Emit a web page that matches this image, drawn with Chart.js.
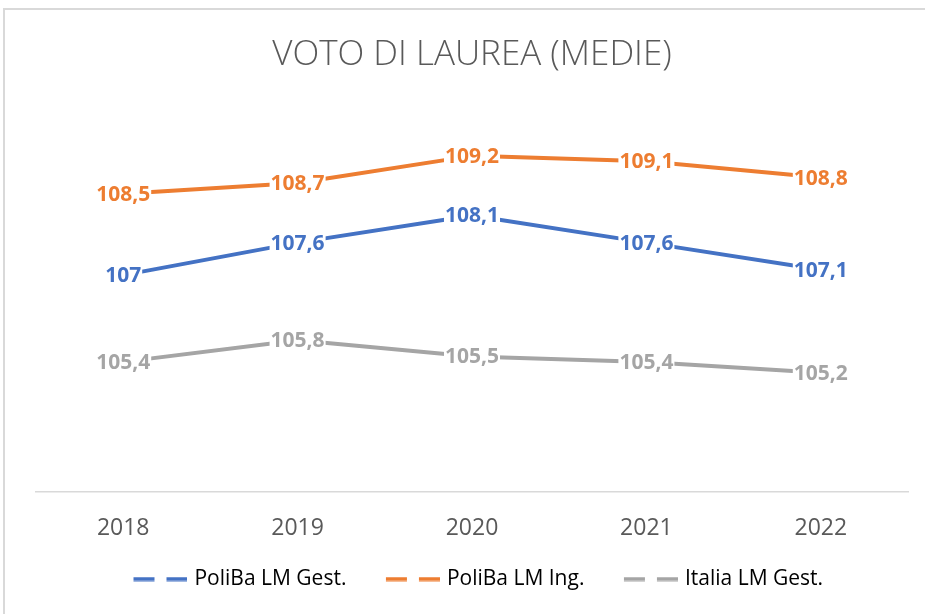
<!DOCTYPE html>
<html lang="it">
<head>
<meta charset="utf-8">
<title>Voto di laurea (medie)</title>
<script src="https://cdn.jsdelivr.net/npm/chart.js@4.4.1/dist/chart.umd.min.js"></script>
<style>
    html, body { margin: 0; padding: 0; background: #ffffff; overflow: hidden; }
    #wrap { position: relative; width: 925px; height: 614px; }
    #frame {
        position: absolute; left: 3px; top: 8px; width: 1000px; height: 700px;
        border: 2px solid #d9d9d9; box-sizing: border-box;
    }
    #chart { position: absolute; left: 0; top: 0; }
</style>
</head>
<body>
<div id="wrap">
    <div id="frame"></div>
    <canvas id="chart" width="925" height="614"></canvas>
</div>
<script>
// Data
const years = ['2018', '2019', '2020', '2021', '2022'];
const polibaGest = [107, 107.6, 108.1, 107.6, 107.1];
const polibaIng = [108.5, 108.7, 109.2, 109.1, 108.8];
const italiaGest = [105.4, 105.8, 105.5, 105.4, 105.2];

const seriesNames = ['PoliBa LM Gest.', 'PoliBa LM Ing.', 'Italia LM Gest.'];
const seriesColors = ['#4472C4', '#ED7D31', '#A5A5A5'];

const FONT = '"Open Sans", "DejaVu Sans", sans-serif';
const TEXT_GREY = '#595959';

// Italian decimal comma
function fmt(v) {
    return String(v).replace('.', ',');
}

// dashed sample for the legend ("— —"), dashes sit in the right part
// of the image so they end just before the legend text
function dashSample(color) {
    const c = document.createElement('canvas');
    c.width = 70;
    c.height = 5;
    const g = c.getContext('2d');
    g.fillStyle = color;
    g.fillRect(16, 0.5, 21, 4);
    g.fillRect(49, 0.5, 21, 4);
    return c;
}

// value labels centred on the points, with a white box behind the text
const valueLabels = {
    id: 'valueLabels',
    afterDatasetsDraw(chart) {
        const ctx = chart.ctx;
        ctx.save();
        ctx.font = 'bold 21px ' + FONT;
        ctx.textAlign = 'center';
        ctx.textBaseline = 'middle';
        chart.data.datasets.forEach((ds, i) => {
            const meta = chart.getDatasetMeta(i);
            meta.data.forEach((pt, j) => {
                const txt = fmt(ds.data[j]);
                const w = ctx.measureText(txt).width;
                ctx.fillStyle = '#ffffff';
                ctx.fillRect(pt.x - w / 2 - 1, pt.y - 9, w + 2, 20);
                ctx.fillStyle = ds.borderColor;
                ctx.fillText(txt, pt.x, pt.y + 1);
            });
        });
        ctx.restore();
    }
};

const datasets = [polibaGest, polibaIng, italiaGest].map((values, i) => ({
    label: seriesNames[i],
    data: values,
    borderColor: seriesColors[i],
    backgroundColor: seriesColors[i],
    borderWidth: 4,
    borderCapStyle: 'round',
    borderJoinStyle: 'round',
    pointRadius: 0,
    pointHoverRadius: 0,
    tension: 0,
    fill: false
}));

new Chart(document.getElementById('chart'), {
    type: 'line',
    data: {
        labels: years,
        datasets: datasets
    },
    options: {
        responsive: false,
        animation: false,
        devicePixelRatio: 1,
        layout: {
            padding: { left: 36, right: 17, top: 0, bottom: 14.5 }
        },
        plugins: {
            title: {
                display: true,
                text: 'VOTO DI LAUREA (MEDIE)',
                color: TEXT_GREY,
                font: { family: FONT, size: 35, weight: '300' },
                padding: { top: 34.5, bottom: 36 }
            },
            legend: {
                display: true,
                position: 'bottom',
                labels: {
                    color: TEXT_GREY,
                    font: { family: FONT, size: 21 },
                    usePointStyle: true,
                    pointStyleWidth: 63,
                    padding: 27,
                    generateLabels(chart) {
                        return chart.data.datasets.map((ds, i) => ({
                            text: ds.label,
                            pointStyle: dashSample(ds.borderColor),
                            fillStyle: ds.borderColor,
                            strokeStyle: ds.borderColor,
                            lineWidth: 0,
                            hidden: false,
                            datasetIndex: i
                        }));
                    }
                }
            },
            tooltip: { enabled: false }
        },
        scales: {
            x: {
                offset: true,
                grid: { display: false, drawTicks: false },
                border: { display: true, color: '#d9d9d9', width: 1.5 },
                ticks: {
                    color: TEXT_GREY,
                    font: { family: FONT, size: 23 },
                    padding: 23
                },
                afterFit(scale) {
                    scale.height = 49.5;
                }
            },
            y: {
                display: false,
                min: 103,
                max: 110
            }
        }
    },
    plugins: [valueLabels]
});
</script>
</body>
</html>
